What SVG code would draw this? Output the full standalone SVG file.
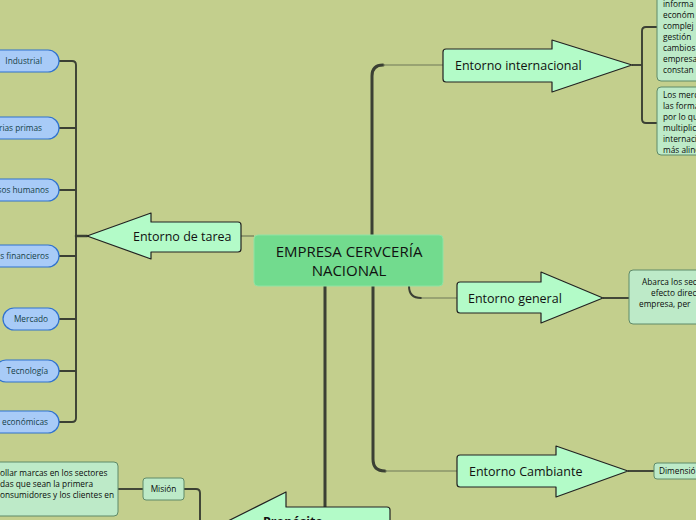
<svg xmlns="http://www.w3.org/2000/svg" width="696" height="520" viewBox="0 0 696 520">
<style>
text{font-family:"Open Sans","Noto Sans","DejaVu Sans",sans-serif;fill:#111}
.arrow{fill:#b3fbc8;stroke:#222;stroke-width:1.2;stroke-linejoin:round}
.arrowt{font-size:12.5px}
.pill{fill:#a8cbf7;stroke:#2f72cf;stroke-width:1.2}
.pillt{font-size:8.3px;fill:#163f48;font-weight:500}
.box{fill:#bdeac8;stroke:#5f8a68;stroke-width:1}
.boxt{font-size:8.3px;font-weight:500;fill:#0a0a0a}
.thick{fill:none;stroke:#3b4034;stroke-width:3;stroke-linecap:round}
.thin{fill:none;stroke:#6e7858;stroke-width:1.2}
.mid{fill:none;stroke:#3b4034;stroke-width:1.9}
</style>
<rect width="696" height="520" fill="#c3cf8d"/>
<g id="connectors">
  <path class="thick" d="M372,235 L372,76 Q372,65 383,65"/>
  <path class="thin" d="M383,65 L443,65"/>
  <path class="thick" d="M409,286 Q409,298 421,298" style="stroke-width:2"/>
  <path class="thin" d="M421,298 L457,298"/>
  <path class="thick" d="M373,286 L373,459 Q373,471 385,471"/>
  <path class="thin" d="M385,471 L457,471"/>
  <path class="thin" d="M241,236 L254,236"/>
  <path class="thick" d="M325,286 L325,507"/>
  <path class="mid" d="M632,65 L642,65"/>
  <path class="mid" d="M657,27 L646,27 Q642,27 642,31 L642,119 Q642,123 646,123 L657,123"/>
  <path class="mid" d="M603,298 L629,298"/>
  <path class="mid" d="M628,471 L654,471"/>
  <path class="thick" d="M87,236 L76,236" style="stroke-width:2.5"/>
  <path class="mid" d="M59,61 L72,61 Q76,61 76,65 L76,418 Q76,422 72,422 L59,422"/>
  <path class="mid" d="M59,128 L76,128 M59,190 L76,190 M59,256 L76,256 M59,319 L76,319 M59,371 L76,371"/>
  <path class="mid" d="M184,489 L196,489 Q200,489 200,493 L200,525"/>
  <path class="mid" d="M118,489 L143,489"/>
</g>
<g id="central">
  <rect x="254" y="235" width="189" height="51" rx="4" fill="#72db8e" stroke="#8fe3a4" stroke-width="1"/>
  <text x="349" y="257" font-size="15" font-weight="500" text-anchor="middle">EMPRESA CERVCERÍA</text>
  <text x="349" y="276" font-size="15" font-weight="500" text-anchor="middle">NACIONAL</text>
</g>
<g id="entorno-internacional">
  <path class="arrow" d="M443,52 Q443,49 446,49 L552,49 L552,40 L632,65 L552,92 L552,82 L446,82 Q443,82 443,79 Z"/>
  <text class="arrowt" x="455" y="70">Entorno internacional</text>
</g>
<g id="info-box-1">
  <rect class="box" x="657" y="-10" width="60" height="91" rx="4"/>
  <text class="boxt" x="663" y="7">informa</text>
  <text class="boxt" x="663" y="18">económ</text>
  <text class="boxt" x="663" y="29">complej</text>
  <text class="boxt" x="663" y="40">gestión</text>
  <text class="boxt" x="663" y="51">cambios</text>
  <text class="boxt" x="663" y="62">empresa</text>
  <text class="boxt" x="663" y="73">constan</text>
</g>
<g id="info-box-2">
  <rect class="box" x="657" y="87" width="60" height="68" rx="4"/>
  <text class="boxt" x="663" y="98">Los merc</text>
  <text class="boxt" x="663" y="109">las forma</text>
  <text class="boxt" x="663" y="120">por lo qu</text>
  <text class="boxt" x="663" y="131">multiplica</text>
  <text class="boxt" x="663" y="142">internaci</text>
  <text class="boxt" x="663" y="153">más aline</text>
</g>
<g id="entorno-general">
  <path class="arrow" d="M457,285 Q457,282 460,282 L541,282 L541,272 L603,298 L541,323 L541,313 L460,313 Q457,313 457,310 Z"/>
  <text class="arrowt" x="468" y="303">Entorno general</text>
</g>
<g id="general-box">
  <rect class="box" x="629" y="270" width="90" height="54" rx="4"/>
  <text class="boxt" x="642" y="285">Abarca los sec</text>
  <text class="boxt" x="651" y="296">efecto direc</text>
  <text class="boxt" x="639" y="307">empresa, per</text>
</g>
<g id="entorno-cambiante">
  <path class="arrow" d="M457,458 Q457,455 460,455 L556,455 L556,446 L628,471 L556,497 L556,487 L460,487 Q457,487 457,484 Z"/>
  <text class="arrowt" x="469" y="476">Entorno Cambiante</text>
</g>
<g id="dimension">
  <rect class="box" x="654" y="463" width="60" height="16" rx="3"/>
  <text class="boxt" x="659" y="474">Dimensió</text>
</g>
<g id="entorno-tarea">
  <path class="arrow" d="M87,236 L151,213 L151,222 L238,222 Q241,222 241,225 L241,249 Q241,252 238,252 L151,252 L151,259 Z"/>
  <text class="arrowt" x="133" y="241">Entorno de tarea</text>
</g>
<g id="industrial">
  <rect class="pill" x="-20" y="50" width="79" height="22" rx="11"/>
  <text class="pillt" x="42" y="64" text-anchor="end">Industrial</text>
</g>
<g id="materias-primas">
  <rect class="pill" x="-40" y="117" width="99" height="22" rx="11"/>
  <text class="pillt" x="42" y="131" text-anchor="end">rias primas</text>
</g>
<g id="recursos-humanos">
  <rect class="pill" x="-40" y="179" width="99" height="22" rx="11"/>
  <text class="pillt" x="49" y="193" text-anchor="end">sos humanos</text>
</g>
<g id="recursos-financieros">
  <rect class="pill" x="-40" y="245" width="99" height="22" rx="11"/>
  <text class="pillt" x="49" y="259" text-anchor="end">s financieros</text>
</g>
<g id="mercado">
  <rect class="pill" x="3" y="308" width="56" height="22" rx="11"/>
  <text class="pillt" x="31" y="322" text-anchor="middle">Mercado</text>
</g>
<g id="tecnologia">
  <rect class="pill" x="-5" y="360" width="64" height="22" rx="11"/>
  <text class="pillt" x="48" y="374" text-anchor="end">Tecnología</text>
</g>
<g id="condiciones-economicas">
  <rect class="pill" x="-40" y="411" width="99" height="22" rx="11"/>
  <text class="pillt" x="48" y="425" text-anchor="end">s económicas</text>
</g>
<g id="proposito">
  <path class="arrow" d="M226,522 L286,492 L286,507 L387,507 Q390,507 390,510 L390,535 Q390,538 387,538 L286,538 L286,552 Z"/>
  <text class="arrowt" x="263" y="526" font-weight="bold">Propósito</text>
</g>
<g id="mision">
  <rect class="box" x="143" y="478" width="41" height="22" rx="3"/>
  <text class="boxt" x="163.5" y="492" text-anchor="middle">Misión</text>
</g>
<g id="mision-text">
  <rect class="box" x="-20" y="462" width="138" height="54" rx="4"/>
  <text class="boxt" x="0" y="476">ollar marcas en los sectores</text>
  <text class="boxt" x="0" y="487">das que sean la primera</text>
  <text class="boxt" x="0" y="498">onsumidores y los clientes en</text>
</g>
</svg>
